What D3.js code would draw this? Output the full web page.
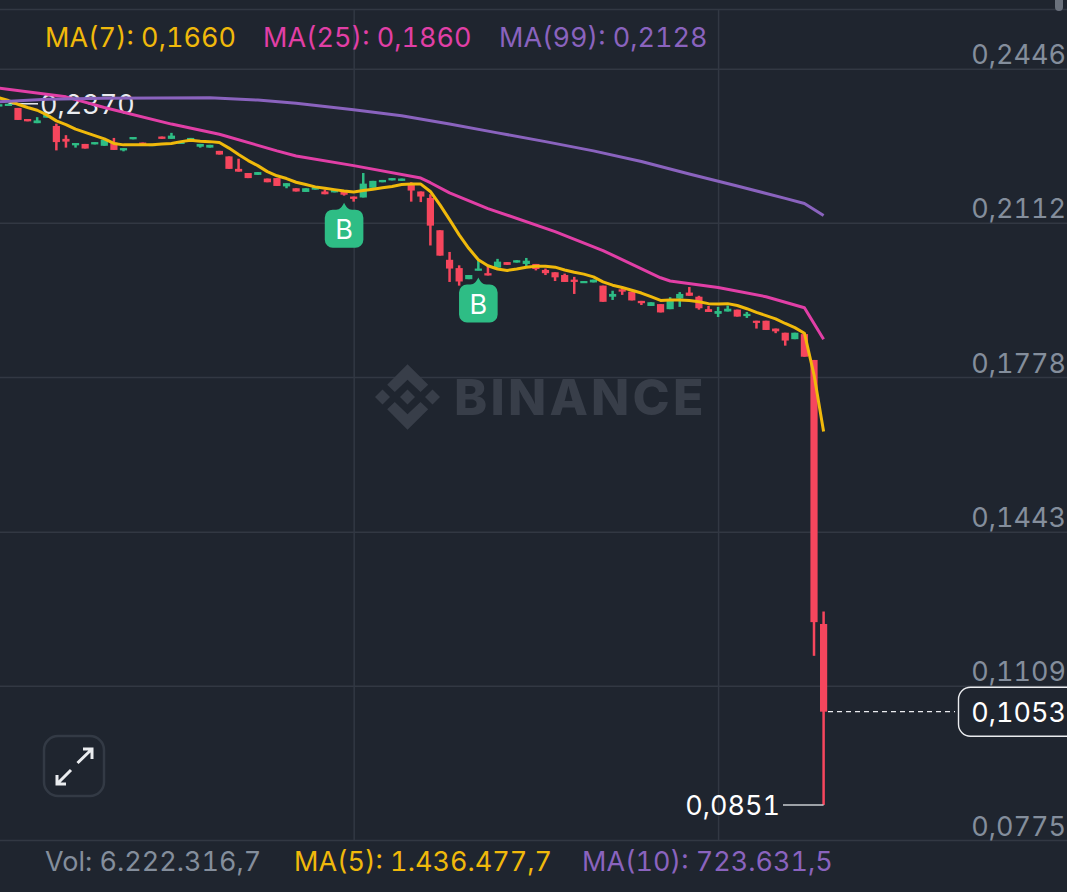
<!DOCTYPE html>
<html>
<head>
<meta charset="utf-8">
<style>
  html, body { margin: 0; padding: 0; background: #1f252f; overflow: hidden; }
  svg { display: block; }
  text { font-family: Inter, "Noto Sans", sans-serif; font-feature-settings: "tnum" 1; font-variant-numeric: tabular-nums; }
</style>
<script src="https://cdnjs.cloudflare.com/ajax/libs/d3/7.8.5/d3.min.js"></script>
</head>
<body>
<script>
// candles, oldest first. candle 0 is the third one from the left edge
const firstCandle = -2
const opens = [
  0.2364, 0.2369, 0.2361, 0.2337, 0.2328, 0.2340, 0.2322, 0.2294, 0.2280, 0.2283,
  0.2282, 0.2279, 0.2286, 0.2269, 0.2293, 0.2286, 0.2281, 0.2299, 0.2294, 0.2283,
  0.2291, 0.2277, 0.2275, 0.2268, 0.2256, 0.2229, 0.2220, 0.2216, 0.2208, 0.2209,
  0.2191, 0.2187, 0.2179, 0.2184, 0.2180, 0.2178, 0.2179, 0.2169, 0.2167, 0.2188,
  0.2200, 0.2204, 0.2203, 0.2195, 0.2180, 0.2166, 0.2096, 0.2032, 0.2014, 0.1990,
  0.2009, 0.2003, 0.2015, 0.2027, 0.2026, 0.2023, 0.2023, 0.2010, 0.2005, 0.1999,
  0.1989, 0.1982, 0.1983, 0.1976, 0.1952, 0.1968, 0.1963, 0.1943, 0.1932, 0.1936,
  0.1925, 0.1948, 0.1961, 0.1952, 0.1925, 0.1915, 0.1920, 0.1924, 0.1910, 0.1900,
  0.1900, 0.1883, 0.1874, 0.1860, 0.1871, 0.1815, 0.1243
]
const closes = [
  0.2369, 0.2370, 0.2335, 0.2332, 0.2334, 0.2346, 0.2287, 0.2288, 0.2285, 0.2273,
  0.2287, 0.2292, 0.2270, 0.2274, 0.2298, 0.2281, 0.2283, 0.2294, 0.2301, 0.2288,
  0.2296, 0.2283, 0.2281, 0.2260, 0.2229, 0.2223, 0.2209, 0.2222, 0.2200, 0.2192,
  0.2198, 0.2180, 0.2187, 0.2190, 0.2174, 0.2184, 0.2173, 0.2164, 0.2197, 0.2203,
  0.2205, 0.2209, 0.2208, 0.2182, 0.2169, 0.2106, 0.2041, 0.2013, 0.1985, 0.1999,
  0.2013, 0.1998, 0.2028, 0.2021, 0.2031, 0.2030, 0.2012, 0.2003, 0.1994, 0.1984,
  0.1984, 0.1986, 0.1989, 0.1941, 0.1958, 0.1963, 0.1944, 0.1938, 0.1940, 0.1918,
  0.1943, 0.1958, 0.1954, 0.1927, 0.1919, 0.1921, 0.1926, 0.1909, 0.1915, 0.1896,
  0.1880, 0.1877, 0.1857, 0.1874, 0.1822, 0.1247, 0.1053
]
const highs = [
  0.2369, 0.2370, 0.2361, 0.2337, 0.2341, 0.2346, 0.2327, 0.2302, 0.2285, 0.2283,
  0.2287, 0.2296, 0.2296, 0.2274, 0.2298, 0.2286, 0.2283, 0.2299, 0.2307, 0.2288,
  0.2296, 0.2283, 0.2281, 0.2268, 0.2256, 0.2251, 0.2220, 0.2222, 0.2208, 0.2209,
  0.2198, 0.2187, 0.2187, 0.2191, 0.2184, 0.2184, 0.2179, 0.2169, 0.2220, 0.2203,
  0.2205, 0.2209, 0.2208, 0.2200, 0.2180, 0.2174, 0.2096, 0.2049, 0.2020, 0.1999,
  0.2030, 0.2019, 0.2034, 0.2027, 0.2031, 0.2036, 0.2023, 0.2013, 0.2005, 0.2002,
  0.1995, 0.1986, 0.1989, 0.1976, 0.1965, 0.1973, 0.1963, 0.1943, 0.1940, 0.1936,
  0.1951, 0.1962, 0.1973, 0.1954, 0.1932, 0.1930, 0.1933, 0.1924, 0.1919, 0.1900,
  0.1900, 0.1883, 0.1874, 0.1874, 0.1871, 0.1815, 0.1270
]
const lows = [
  0.2364, 0.2369, 0.2335, 0.2332, 0.2328, 0.2340, 0.2269, 0.2275, 0.2275, 0.2273,
  0.2282, 0.2279, 0.2270, 0.2267, 0.2293, 0.2281, 0.2281, 0.2294, 0.2294, 0.2283,
  0.2291, 0.2275, 0.2275, 0.2260, 0.2229, 0.2223, 0.2209, 0.2216, 0.2200, 0.2192,
  0.2187, 0.2180, 0.2179, 0.2184, 0.2174, 0.2178, 0.2171, 0.2158, 0.2167, 0.2188,
  0.2200, 0.2204, 0.2203, 0.2158, 0.2157, 0.2063, 0.2041, 0.1984, 0.1976, 0.1990,
  0.2009, 0.1998, 0.2015, 0.2021, 0.2026, 0.2016, 0.2009, 0.1999, 0.1986, 0.1984,
  0.1958, 0.1982, 0.1983, 0.1941, 0.1945, 0.1956, 0.1944, 0.1934, 0.1932, 0.1918,
  0.1925, 0.1930, 0.1954, 0.1924, 0.1919, 0.1908, 0.1920, 0.1909, 0.1906, 0.1883,
  0.1880, 0.1873, 0.1846, 0.1860, 0.1822, 0.1174, 0.0851
]

// moving averages. MA(7) has a value per candle, the other two are read at these candles
const ma7 = [
  0.2383, 0.2377, 0.2369, 0.2362, 0.2356, 0.2346, 0.2333, 0.2325, 0.2315, 0.2308,
  0.2301, 0.2294, 0.2284, 0.2281, 0.2281, 0.2281, 0.2281, 0.2283, 0.2284, 0.2288,
  0.2291, 0.2289, 0.2288, 0.2286, 0.2274, 0.2260, 0.2247, 0.2236, 0.2223, 0.2214,
  0.2208, 0.2200, 0.2195, 0.2190, 0.2187, 0.2184, 0.2181, 0.2179, 0.2182, 0.2185,
  0.2188, 0.2191, 0.2195, 0.2196, 0.2196, 0.2180, 0.2151, 0.2119, 0.2086, 0.2057,
  0.2032, 0.2019, 0.2012, 0.2009, 0.2012, 0.2016, 0.2018, 0.2018, 0.2016, 0.2010,
  0.2005, 0.2001, 0.1995, 0.1984, 0.1977, 0.1972, 0.1966, 0.1960, 0.1952, 0.1944,
  0.1945, 0.1945, 0.1944, 0.1941, 0.1937, 0.1936, 0.1937, 0.1933, 0.1926, 0.1918,
  0.1911, 0.1904, 0.1894, 0.1885, 0.1873, 0.1783, 0.1660
]
const ma25Candles = [-2, 5, 9, 16, 21, 27, 29, 35, 42, 43, 45, 49, 56, 61, 67, 68, 73, 78, 82, 84]
const ma25 = [
  0.2404, 0.2385, 0.2362, 0.2326, 0.2304, 0.2268, 0.2257, 0.2236, 0.2209, 0.2199,
  0.2177, 0.2143, 0.2093, 0.2052, 0.1993, 0.1986, 0.1972, 0.1952, 0.1928, 0.1860
]
const ma99Candles = [-2, 3, 9, 20, 25, 29, 35, 40, 45, 50, 55, 60, 65, 70, 75, 80, 82, 84]
const ma99 = [
  0.2374, 0.2380, 0.2382, 0.2383, 0.2378, 0.2371, 0.2357, 0.2344, 0.2326, 0.2307,
  0.2288, 0.2268, 0.2245, 0.2218, 0.2192, 0.2165, 0.2154, 0.2128
]

const priceTicks = [0.2446, 0.2112, 0.1778, 0.1443, 0.1109, 0.0775]
const buyCandles = [34, 48]
const lastPrice = 0.1053
const highPrice = 0.2370
const lowPrice = 0.0851

const headerLabels = ['MA(7): 0,1660', 'MA(25): 0,1860', 'MA(99): 0,2128']
const headerX = [45, 263, 499]
const footerLabels = ['Vol: 6.222.316,7', 'MA(5): 1.436.477,7', 'MA(10): 723.631,5']
const footerX = [45, 294, 582]

const width = 1067
const height = 892
const fontSize = 27
const bg = '#1f252f'
const up = '#2ebd85'
const down = '#f6465d'
const yellow = '#f0b90b'
const pink = '#e13fa6'
const purple = '#8a63be'
const grey = '#848e9c'
const gridColor = '#323843'

const candles = opens.map(function (o, i) {
  return {i: i + firstCandle, open: o, close: closes[i], high: highs[i], low: lows[i]}
})

const x = d3.scaleLinear().domain([0, 84]).range([18, 823.6])
const y = d3.scaleLinear().domain([0.2446, 0.0775]).range([68.7, 840])
const price = function (v) { return d3.format('.4f')(v).replace('.', ',') }

const svg = d3.select('body').append('svg')
    .attr('width', width)
    .attr('height', height)
    .style('background', bg)

// grid and price labels
const yAxis = d3.axisRight(y).tickValues(priceTicks).tickSize(width).tickFormat(price)
svg.append('g').attr('class', 'y axis').call(yAxis)
    .call(function (g) {
      g.select('.domain').remove()
      g.selectAll('line').attr('stroke', gridColor).attr('stroke-width', 1.5)
      g.selectAll('text')
          .attr('x', 1066)
          .attr('dy', -5)
          .attr('text-anchor', 'end')
          .attr('fill', grey)
          .attr('font-size', fontSize)
          .attr('font-family', 'Inter, sans-serif')
    })

const xAxis = d3.axisTop(x).tickValues([35, 73]).tickSize(-(840 - 9.5)).tickFormat('')
svg.append('g').attr('class', 'x axis').attr('transform', 'translate(0,9.5)').call(xAxis)
    .call(function (g) {
      g.select('.domain').remove()
      g.selectAll('line').attr('stroke', gridColor).attr('stroke-width', 1.5)
    })
svg.append('line').attr('x1', 0).attr('x2', width).attr('y1', 9.5).attr('y2', 9.5)
    .attr('stroke', gridColor).attr('stroke-width', 1.5)
svg.append('rect').attr('x', 1055).attr('y', -6).attr('width', 8).attr('height', 17).attr('rx', 4)
    .attr('fill', '#6a717c')

// watermark
const mark = svg.append('g').attr('transform', 'translate(407.5,397)').attr('fill', '#383e49')
const chevron = 'M0,-32.7L20.7,-12.3L13,-5L0,-17.3L-12.7,-5L-20.3,-12.3Z'
mark.append('path').attr('d', chevron)
mark.append('path').attr('d', chevron).attr('transform', 'scale(1,-1)')
;[-25, 0, 25].forEach(function (dx) {
  mark.append('path').attr('d', 'M' + dx + ',-7.5l7.5,7.5l-7.5,7.5l-7.5,-7.5Z')
})
svg.append('text').text('BINANCE')
    .attr('x', 454).attr('y', 415)
    .attr('font-size', 50).attr('font-weight', 800)
    .attr('letter-spacing', 3.2)
    .attr('fill', '#383e49')

// high marker, sits under the lines
svg.append('line').attr('x1', x(-1)).attr('x2', 38).attr('y1', y(highPrice)).attr('y2', y(highPrice))
    .attr('stroke', '#eaecef').attr('stroke-width', 1.5)
svg.append('text').text(price(highPrice))
    .attr('x', 40).attr('y', y(highPrice) + 10)
    .attr('fill', '#eaecef').attr('font-size', fontSize)

// candles
const candle = svg.append('g').attr('class', 'candles').selectAll('g').data(candles).enter().append('g')
    .attr('fill', function (d) { return d.close >= d.open ? up : down })
candle.append('rect')
    .attr('x', function (d) { return x(d.i) - 1.25 })
    .attr('width', 2.5)
    .attr('y', function (d) { return y(d.high) })
    .attr('height', function (d) { return y(d.low) - y(d.high) })
candle.append('rect')
    .attr('x', function (d) { return x(d.i) - 3.6 })
    .attr('width', 7.2)
    .attr('y', function (d) { return y(Math.max(d.open, d.close)) })
    .attr('height', function (d) { return Math.max(2.2, Math.abs(y(d.open) - y(d.close))) })

// moving averages
function drawLine (idx, values, color) {
  const line = d3.line()
      .x(function (d, i) { return x(idx[i]) })
      .y(function (d) { return y(d) })
  svg.append('path').datum(values)
      .attr('d', line)
      .attr('fill', 'none')
      .attr('stroke', color)
      .attr('stroke-width', 3)
      .attr('stroke-linejoin', 'round')
}
drawLine(candles.map(function (d) { return d.i }), ma7, yellow)
drawLine(ma25Candles, ma25, pink)
drawLine(ma99Candles, ma99, purple)

// buy markers
const buy = svg.append('g').attr('class', 'buys').selectAll('g').data(buyCandles).enter().append('g')
    .attr('transform', function (d) {
      const c = candles[d - firstCandle]
      return 'translate(' + x(d) + ',' + (y(Math.min(c.low, c.open, c.close)) + 7) + ')'
    })
buy.append('path')
    .attr('d', 'M0,0C2,4 4,7 8,7H11A8,8 0 0 1 19.3,15V37A8,8 0 0 1 11,45H-11A8,8 0 0 1 -19.3,37V15A8,8 0 0 1 -11,7H-8C-4,7 -2,4 0,0Z')
    .attr('fill', up)
buy.append('text').text('B')
    .attr('y', 36.5)
    .attr('text-anchor', 'middle')
    .attr('fill', '#fff')
    .attr('font-size', 27)

// last price line and tag
svg.append('line').attr('x1', 828).attr('x2', 955).attr('y1', y(lastPrice)).attr('y2', y(lastPrice))
    .attr('stroke', '#eaecef').attr('stroke-width', 1.3).attr('stroke-dasharray', '5 4')
svg.append('rect').attr('x', 958.5).attr('y', y(lastPrice) - 24.5).attr('width', 130).attr('height', 49).attr('rx', 12)
    .attr('fill', bg).attr('stroke', '#eaecef').attr('stroke-width', 1.4)
svg.append('text').text(price(lastPrice))
    .attr('x', 1066).attr('y', y(lastPrice) + 10.5)
    .attr('text-anchor', 'end')
    .attr('fill', '#fff').attr('font-size', fontSize)

// low marker
svg.append('line').attr('x1', 783).attr('x2', x(84)).attr('y1', y(lowPrice)).attr('y2', y(lowPrice))
    .attr('stroke', '#c9ccd1').attr('stroke-width', 1.5)
svg.append('text').text(price(lowPrice))
    .attr('x', 780).attr('y', y(lowPrice) + 10)
    .attr('text-anchor', 'end')
    .attr('fill', '#fff').attr('font-size', fontSize)

// expand button
const btn = svg.append('g').attr('fill', 'none')
btn.append('rect').attr('x', 44).attr('y', 736).attr('width', 60).attr('height', 60).attr('rx', 14)
    .attr('stroke', '#333a45').attr('stroke-width', 2.5)
btn.append('path').attr('d', 'M77.5,763L92,749M83,749H92V759M71,770L57,784M57,775V784H66')
    .attr('stroke', '#eaecef').attr('stroke-width', 3)

// header and footer legends
const headerColors = [yellow, pink, purple]
svg.append('g').selectAll('text').data(headerLabels).enter().append('text')
    .text(function (d) { return d })
    .attr('x', function (d, i) { return headerX[i] })
    .attr('y', 47)
    .attr('font-size', fontSize)
    .attr('fill', function (d, i) { return headerColors[i] })

const footerColors = [grey, yellow, purple]
svg.append('g').selectAll('text').data(footerLabels).enter().append('text')
    .text(function (d) { return d })
    .attr('x', function (d, i) { return footerX[i] })
    .attr('y', 871)
    .attr('font-size', fontSize)
    .attr('fill', function (d, i) { return footerColors[i] })
</script>
</body>
</html>
